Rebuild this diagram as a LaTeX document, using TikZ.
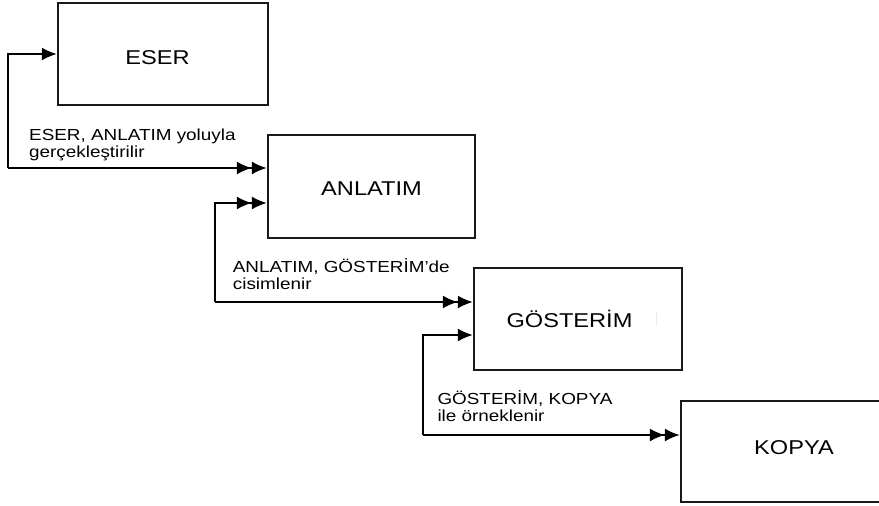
\documentclass[tikz,border=0pt]{standalone}
\usepackage{fontspec}
\setmainfont{Liberation Sans}[FakeStretch=1.18]
\usetikzlibrary{arrows.meta}

\begin{document}
\begin{tikzpicture}[x=1pt,y=-1pt,
  box/.style={draw=black!90, line width=2.2pt, rectangle, inner sep=0pt},
  conn/.style={draw=black, line width=2.1pt},
  tip/.style={Latex[length=15pt,width=13pt]},
  one/.style={-{Latex[length=15pt,width=13pt]}},
  two/.style={-{Latex[length=15pt,width=13pt] Latex[length=15pt,width=13pt]}},
  boxtext/.style={font=\fontsize{20}{24}\selectfont, inner sep=0pt, anchor=base},
  note/.style={font=\fontsize{16}{16.5}\selectfont, align=left, inner sep=0pt, anchor=base west}]

\useasboundingbox (0,0) rectangle (879,506);
\clip (0,0) rectangle (879,506);

% stages
\node[box, minimum width=210pt, minimum height=102pt] (eser)    at (163,54)    {};
\node[box, minimum width=207pt, minimum height=103pt] (anlatim) at (371.5,186.5) {};
\node[box, minimum width=208pt, minimum height=102pt] (gost)    at (578,319)   {};
\node[box, minimum width=209pt, minimum height=101pt] (kopya)   at (785.5,451.5) {};

\node[boxtext] (teser)    at (157.5,64)  {ESER};
\node[boxtext] (tanlatim) at (371.5,195.7) {ANLATIM};
\node[boxtext] (tgost)    at (569.5,327) {GÖSTERİM};
\node[boxtext] (tkopya)   at (794,454)   {KOPYA};

% faint mark inside the third box
\draw[black!7, line width=0.8pt] (656,312) -- (656,326);

% connectors
\coordinate (k1) at (8,168);
\draw[conn,one] (k1) |- (eser.west);
\draw[conn,two] (k1) -- (k1 -| anlatim.west);

\coordinate (k2) at (215,302);
\draw[conn,two] (k2) |- (anlatim.west |- 0,203);
\draw[conn,two] (k2) -- (k2 -| gost.west);

\coordinate (k3) at (423,435);
\draw[conn,one] (k3) |- (gost.west |- 0,335);
\draw[conn,two] (k3) -- (k3 -| kopya.west);

% relation labels (anchored on the baseline of their last line)
\node[note] (n1) at (29,157)    {ESER, ANLATIM yoluyla\\gerçekleştirilir};
\node[note] (n2) at (232.7,289) {ANLATIM, GÖSTERİM’de\\cisimlenir};
\node[note] (n3) at (437.3,421) {GÖSTERİM, KOPYA\\ile örneklenir};
\end{tikzpicture}
\end{document}
